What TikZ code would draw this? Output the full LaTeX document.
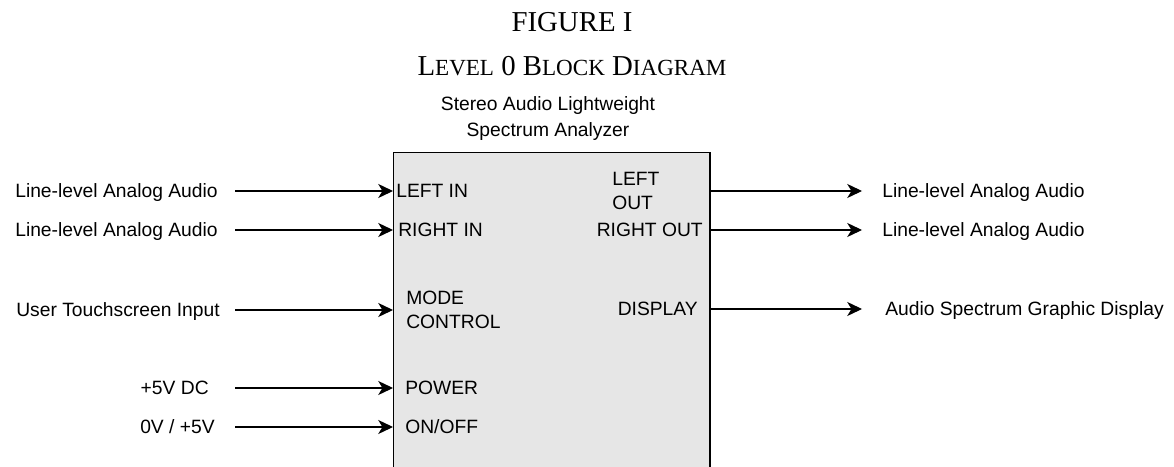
\documentclass[tikz,border=0pt]{standalone}
\usepackage{fontspec}
\setmainfont{Liberation Serif}
\newfontfamily\arialfont{Liberation Sans}
\usepackage{tikz}
\usetikzlibrary{arrows.meta,positioning}
\definecolor{boxgray}{HTML}{E6E6E6}
\newcommand{\fsc}[2]{#1{\fontsize{16.4}{20}\selectfont #2}}

\begin{document}
\begin{tikzpicture}[x=0.025cm,y=-0.025cm,
    lbl/.style={font=\arialfont\fontsize{13.7}{17}\selectfont,inner sep=0pt,text height=9.8pt,text depth=0pt},
    port/.style={font=\arialfont\fontsize{13.7}{17}\selectfont,inner sep=0pt,align=left},
    sig/.style={line width=0.8pt,-{Stealth[length=10.5pt,width=10pt,inset=3pt]}}]
    \useasboundingbox (0,0) rectangle (1174,466);
    \clip (0,0) rectangle (1174,466);

    \node [font=\fontsize{20.5}{24}\selectfont,anchor=base] (fig) at (572,32) {FIGURE I};
    \node [font=\fontsize{20.5}{24}\selectfont,anchor=base] (lvl) at (572,76) {
      \fsc{L}{EVEL} 0 \fsc{B}{LOCK} \fsc{D}{IAGRAM}
    };

    \node [port,align=center,font=\arialfont\fontsize{13.7}{18.5}\selectfont] (name) at (548,119) {
      Stereo Audio Lightweight\\Spectrum Analyzer
    };
    \node [draw,fill=boxgray,line width=1pt,anchor=north west,inner sep=0pt,
      minimum width=7.9cm,minimum height=8.5cm] (sala) at (393,152) {};

    \node [port,anchor=west] (pLin) at (396,191) {LEFT IN};
    \node [port,anchor=west] (pRin) at (398,230) {RIGHT IN};
    \node [port,anchor=west] (pMode) at (406,310) {MODE\\CONTROL};
    \node [port,anchor=west] (pPow) at (405,388) {POWER};
    \node [port,anchor=west] (pOnoff) at (405,427) {ON/OFF};
    \node [port,anchor=west] (pLout) at (612,191) {LEFT\\OUT};
    \node [port,anchor=east] (pRout) at (703,230) {RIGHT OUT};
    \node [port,anchor=east] (pDisp) at (698,309) {DISPLAY};

    \node [lbl,anchor=east,inner xsep=0.425cm] (inL) at (235,191) {Line-level Analog Audio};
    \node [lbl,anchor=east,inner xsep=0.425cm] (inR) at (235,230) {Line-level Analog Audio};
    \node [lbl,anchor=east,inner xsep=0.375cm] (inM) at (235,310) {User Touchscreen Input};
    \node [lbl,anchor=east,inner xsep=0.65cm] (inP) at (235,388) {+5V DC};
    \node [lbl,anchor=east,inner xsep=0.5cm] (inO) at (235,427) {0V / +5V};

    \node [lbl,anchor=west,inner xsep=0.5cm] (outL) at (862,191) {Line-level Analog Audio};
    \node [lbl,anchor=west,inner xsep=0.5cm] (outR) at (862,230) {Line-level Analog Audio};
    \node [lbl,anchor=west,inner xsep=0.575cm] (outD) at (862,309) {Audio Spectrum Graphic Display};

    \foreach \n in {inL,inR,inM,inP,inO}
      \draw [sig] (\n) -- (\n -| sala.west);
    \foreach \n in {outL,outR,outD}
      \draw [sig] (sala.east |- \n) -- (\n);
\end{tikzpicture}
\end{document}
